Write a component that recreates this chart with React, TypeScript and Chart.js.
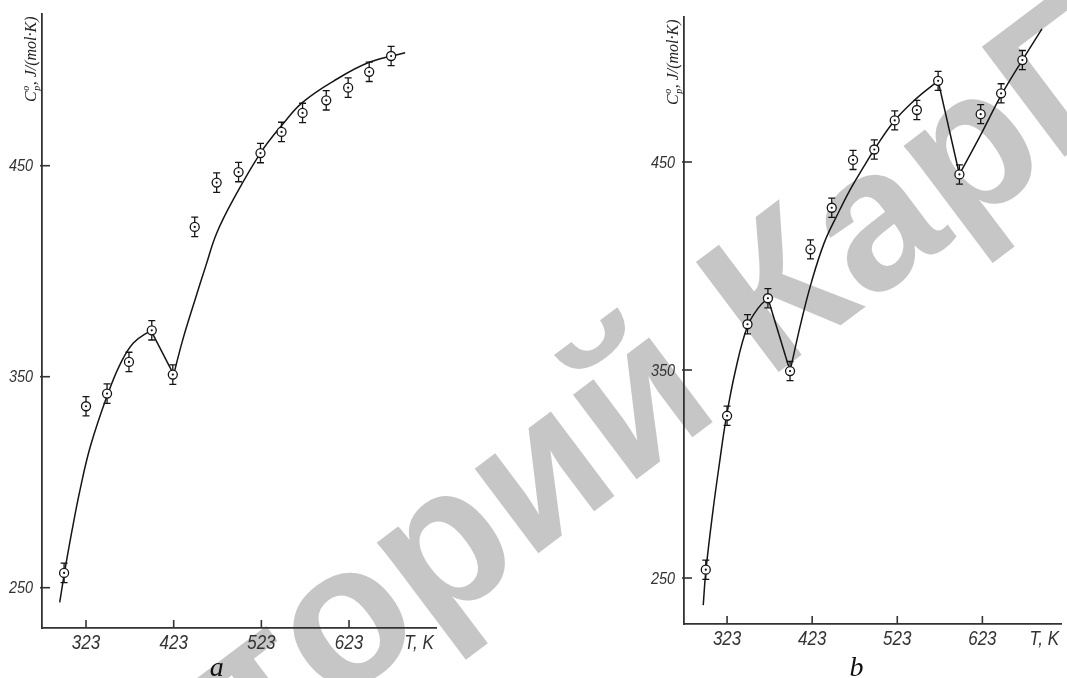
import React, { useEffect, useRef } from "react";
import { Chart, registerables } from "chart.js";

Chart.register(...registerables);

// ---------- data ----------
const xTickValues = [323, 423, 523, 623];
const yTickValues = [250, 350, 450];
const errorHalf = 4.6;

// panel a
const tempsA = [298, 323, 347, 372, 398, 422, 447, 472, 497, 522, 546, 570, 597, 622, 646, 671];
const cpA = [257, 336, 342, 357, 372, 351, 421, 442, 447, 456, 466, 475, 481, 487, 494.5, 502];
const curveA1T = [293, 298, 307, 316, 328, 348, 362, 377, 397];
const curveA1Cp = [243, 256, 277, 296, 317, 342, 356, 366, 372];
const curveA2T = [397, 423];
const curveA2Cp = [372, 351];
const curveA3T = [423, 433, 447, 460, 472, 491, 522, 548, 570, 605, 646, 687];
const curveA3Cp = [351, 367, 386, 403, 418, 434, 456, 470, 480, 490, 499, 503.5];

// panel b
const tempsB = [298, 323, 347, 371, 397, 421, 446, 471, 496, 520, 546, 571, 596, 621, 645, 670];
const cpB = [254, 328, 372, 384.5, 349.5, 408, 428, 451, 456, 470, 475, 489, 444, 473, 483, 499];
const curveB1T = [295, 298, 306, 314, 322, 333, 347, 360, 371];
const curveB1Cp = [237, 253, 281, 305, 327, 350, 371, 380, 384.5];
const curveB2T = [371, 397];
const curveB2Cp = [384.5, 349.5];
const curveB3T = [397, 410, 422, 437, 453, 468, 484, 496, 519, 544, 571];
const curveB3Cp = [349.5, 373, 392, 411, 425, 437, 448, 456, 469.5, 480, 489];
const curveB4T = [571, 596];
const curveB4Cp = [489, 444];
const curveB5T = [596, 621, 645, 670, 693];
const curveB5Cp = [444, 463, 482, 499, 514];

const xTickLabels = ["323", "423", "523", "623"];
const yTickLabels = ["250", "350", "450"];
const xLabel = "T, K";
const yLabelMain = "C";
const yLabelSup = "o";
const yLabelSub = "p";
const yLabelRest = ", J/(mol·K)";
const watermarkText = "Репозиторий КарГУ";

// ---------- styles ----------
const INK = "#151515";
const AXIS = "#333333";
const tickFamily = '"Liberation Sans", Arimo, Arial, sans-serif';
const serifFamily = '"Liberation Serif", "DejaVu Serif", serif';

type PanelSpec = {
  letter: string;
  left: number;
  width: number;
  padLeft: number;
  padTop: number;
  padRight: number;
  xAxisHeight: number;
  xMin: number;
  xMax: number;
  yMin: number;
  yMax: number;
  temps: number[];
  cps: number[];
  curves: { t: number[]; cp: number[]; tension: number }[];
  letterAt: number;
};

const pts = (t: number[], v: number[]) => t.map((x, i) => ({ x, y: v[i] }));

function drawNarrow(ctx: CanvasRenderingContext2D, text: string, x: number, y: number, size: number, align: "left" | "center" | "right") {
  const sx = 0.85;
  ctx.save();
  ctx.font = `italic ${size}px ${tickFamily}`;
  ctx.textBaseline = "middle";
  ctx.textAlign = align;
  ctx.translate(x, y);
  ctx.scale(sx, 1);
  ctx.fillText(text, 0, 0);
  ctx.restore();
}

function Panel({ spec }: { spec: PanelSpec }) {
  const ref = useRef<HTMLCanvasElement>(null);
  useEffect(() => {
    const canvas = ref.current!;
    const decor = {
      id: "decor",
      beforeDatasetsDraw(chart: any) {
        const ctx = chart.ctx;
        const xs = chart.scales.x;
        const ys = chart.scales.y;
        ctx.save();
        ctx.strokeStyle = INK;
        ctx.lineWidth = 1.3;
        spec.temps.forEach((t, i) => {
          const px = xs.getPixelForValue(t);
          const top = ys.getPixelForValue(spec.cps[i] + errorHalf);
          const bot = ys.getPixelForValue(spec.cps[i] - errorHalf);
          ctx.beginPath();
          ctx.moveTo(px, top);
          ctx.lineTo(px, bot);
          ctx.moveTo(px - 3.5, top);
          ctx.lineTo(px + 3.5, top);
          ctx.moveTo(px - 3.5, bot);
          ctx.lineTo(px + 3.5, bot);
          ctx.stroke();
        });
        ctx.restore();
      },
      afterDraw(chart: any) {
        const ctx = chart.ctx;
        const xs = chart.scales.x;
        const ys = chart.scales.y;
        const area = chart.chartArea;
        ctx.save();
        ctx.strokeStyle = AXIS;
        ctx.lineWidth = 1.6;
        ctx.fillStyle = AXIS;
        yTickValues.forEach((v, i) => {
          const py = ys.getPixelForValue(v);
          ctx.beginPath();
          ctx.moveTo(area.left - 2, py);
          ctx.lineTo(area.left + 8, py);
          ctx.stroke();
          drawNarrow(ctx, yTickLabels[i], area.left - 9, py + 1, 17, "right");
        });
        xTickValues.forEach((v, i) => {
          const px = xs.getPixelForValue(v);
          ctx.beginPath();
          ctx.moveTo(px, area.bottom);
          ctx.lineTo(px, area.bottom - 8);
          ctx.stroke();
          drawNarrow(ctx, xTickLabels[i], px, area.bottom + 15, 20, "center");
        });
        drawNarrow(ctx, xLabel, area.right - 17, area.bottom + 15, 20, "center");
        // panel letter
        ctx.fillStyle = "#111";
        ctx.font = `italic 28px ${serifFamily}`;
        ctx.textAlign = "center";
        ctx.textBaseline = "alphabetic";
        ctx.fillText(spec.letter, xs.getPixelForValue(spec.letterAt), 676);
        // y title
        ctx.translate(area.left - 6, area.top + 88);
        ctx.rotate(-Math.PI / 2);
        ctx.textAlign = "left";
        ctx.fillStyle = "#222";
        ctx.font = `italic 16px ${serifFamily}`;
        ctx.fillText(yLabelMain, 0, 0);
        const wC = ctx.measureText(yLabelMain).width;
        ctx.font = `italic 10px ${serifFamily}`;
        ctx.fillText(yLabelSup, wC + 0.5, -7);
        ctx.fillText(yLabelSub, wC + 0.5, 4);
        const wS = Math.max(ctx.measureText(yLabelSup).width, ctx.measureText(yLabelSub).width);
        ctx.font = `italic 16px ${serifFamily}`;
        ctx.fillText(yLabelRest, wC + wS + 1, 0);
        ctx.restore();
      },
    };

    const datasets: any[] = spec.curves.map((c) => ({
      data: pts(c.t, c.cp),
      showLine: true,
      borderColor: INK,
      borderWidth: 1.5,
      pointRadius: 0,
      fill: false,
      tension: c.tension,
      order: 3,
    }));
    datasets.push({
      data: pts(spec.temps, spec.cps),
      showLine: false,
      pointRadius: 4.5,
      pointBorderWidth: 1.3,
      pointBackgroundColor: "#ffffff",
      pointBorderColor: INK,
      order: 1,
    });
    datasets.push({
      data: pts(spec.temps, spec.cps),
      showLine: false,
      pointRadius: 1.1,
      pointBorderWidth: 0,
      pointBackgroundColor: INK,
      pointBorderColor: INK,
      order: 0,
    });

    const chart = new Chart(canvas, {
      type: "scatter",
      data: { datasets },
      options: {
        animation: false,
        responsive: false,
        devicePixelRatio: 1,
        events: [],
        layout: { padding: { left: spec.padLeft, top: spec.padTop, right: spec.padRight, bottom: 0 } },
        plugins: { legend: { display: false }, tooltip: { enabled: false } },
        scales: {
          x: {
            type: "linear",
            min: spec.xMin,
            max: spec.xMax,
            afterFit: (s: any) => {
              s.height = spec.xAxisHeight;
            },
            afterBuildTicks: (s: any) => {
              s.ticks = xTickValues.map((v) => ({ value: v }));
            },
            grid: { display: false, drawTicks: false },
            border: { display: true, color: AXIS, width: 1.8 },
            ticks: { display: false },
          },
          y: {
            type: "linear",
            min: spec.yMin,
            max: spec.yMax,
            afterFit: (s: any) => {
              s.width = 42;
            },
            afterBuildTicks: (s: any) => {
              s.ticks = yTickValues.map((v) => ({ value: v }));
            },
            grid: { display: false, drawTicks: false },
            border: { display: true, color: AXIS, width: 1.8 },
            ticks: { display: false },
          },
        },
      } as any,
      plugins: [decor],
    });
    return () => chart.destroy();
  }, [spec]);

  return (
    <canvas
      ref={ref}
      width={spec.width}
      height={678}
      style={{ position: "absolute", left: spec.left, top: 0, width: spec.width, height: 678, zIndex: 1 }}
    />
  );
}

const panelA: PanelSpec = {
  letter: "a",
  left: 0,
  width: 533,
  padLeft: 0,
  padTop: 14,
  padRight: 97,
  xAxisHeight: 50,
  xMin: 272.8,
  xMax: 722.2,
  yMin: 230.9,
  yMax: 521.9,
  temps: tempsA,
  cps: cpA,
  curves: [
    { t: curveA1T, cp: curveA1Cp, tension: 0.4 },
    { t: curveA2T, cp: curveA2Cp, tension: 0 },
    { t: curveA3T, cp: curveA3Cp, tension: 0.4 },
  ],
  letterAt: 472,
};

const panelB: PanelSpec = {
  letter: "b",
  left: 533,
  width: 534,
  padLeft: 109,
  padTop: 17,
  padRight: 0,
  xAxisHeight: 54,
  xMin: 272.4,
  xMax: 715.6,
  yMin: 227.9,
  yMax: 519.7,
  temps: tempsB,
  cps: cpB,
  curves: [
    { t: curveB1T, cp: curveB1Cp, tension: 0.4 },
    { t: curveB2T, cp: curveB2Cp, tension: 0 },
    { t: curveB3T, cp: curveB3Cp, tension: 0.4 },
    { t: curveB4T, cp: curveB4Cp, tension: 0 },
    { t: curveB5T, cp: curveB5Cp, tension: 0.4 },
  ],
  letterAt: 475,
};

export default function App() {
  return (
    <div
      style={{
        position: "absolute",
        left: 0,
        top: 0,
        width: 1067,
        height: 678,
        overflow: "hidden",
        background: "#ffffff",
      }}
    >
      <div
        style={{
          position: "absolute",
          left: 428,
          top: 550,
          transform: "translate(-50%, -50%) rotate(-37deg)",
          whiteSpace: "nowrap",
          fontFamily: '"Liberation Sans", Arial, sans-serif',
          fontWeight: 700,
          fontSize: 200,
          lineHeight: 1,
          color: "#c6c6c6",
          zIndex: 0,
          userSelect: "none",
        }}
      >
        {watermarkText}
      </div>
      <Panel spec={panelA} />
      <Panel spec={panelB} />
    </div>
  );
}
